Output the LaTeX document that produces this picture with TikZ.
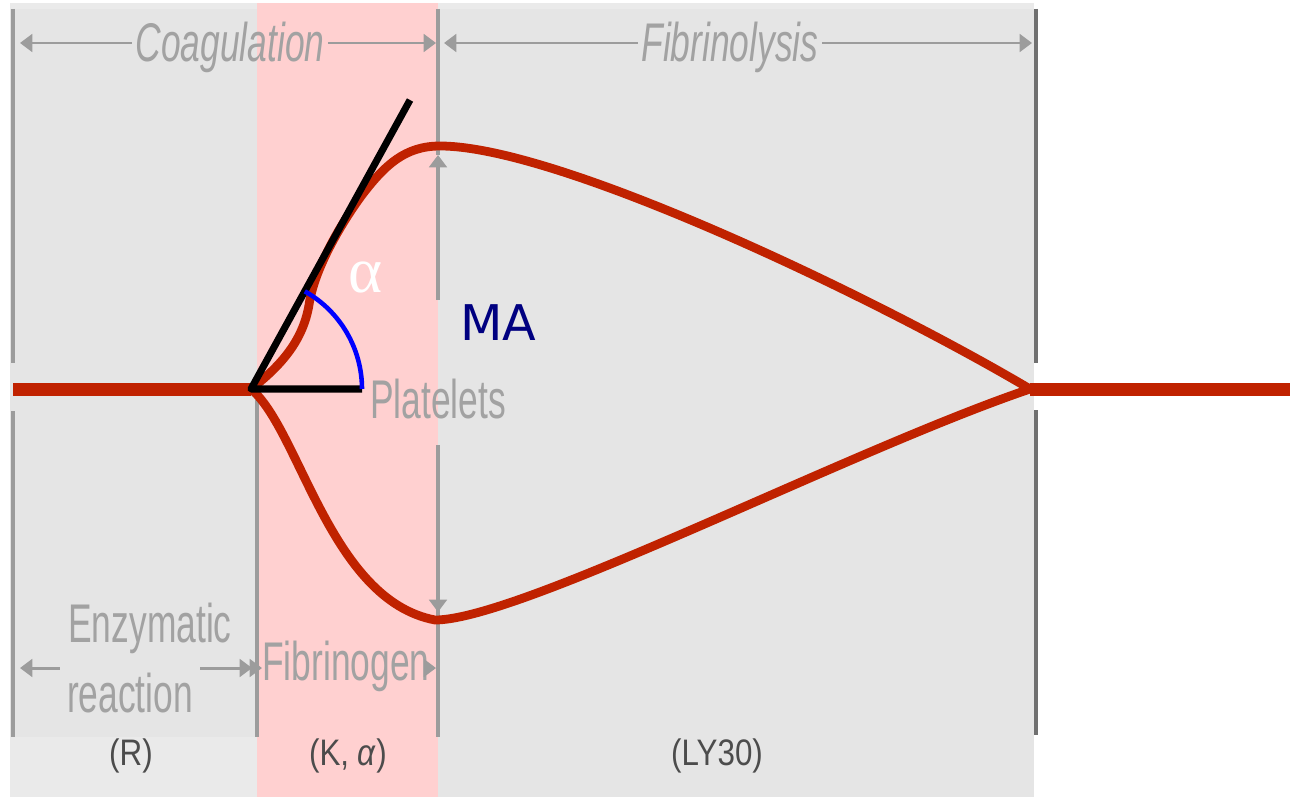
\documentclass[tikz,border=0pt]{standalone}
\usepackage{fontspec}
\usepackage{tikz}
\usetikzlibrary{arrows.meta}
\newfontfamily\labfont[FakeStretch=0.65]{Liberation Sans}
\newfontfamily\parfont[FakeStretch=0.85]{Liberation Sans}
\newfontfamily\mafont{DejaVu Sans}
\newfontfamily\greekfont{Liberation Serif}
\definecolor{panelGray}{HTML}{E5E5E5}
\definecolor{panelLight}{HTML}{EAEAEA}
\definecolor{bandPink}{HTML}{FFD0D0}
\definecolor{tegRed}{HTML}{C02200}
\definecolor{guideGray}{HTML}{9C9C9C}
\definecolor{edgeGray}{HTML}{707070}
\definecolor{labelGray}{HTML}{A2A2A2}
\definecolor{paramGray}{HTML}{4C4C4C}
\definecolor{maNavy}{HTML}{000080}

\begin{document}
\begin{tikzpicture}[x=0.02cm, y=-0.02cm, line join=round,
  vline/.style={guideGray, line width=1.9pt},
  garrow/.style={guideGray, line width=1.7pt},
  tip/.tip={Triangle[length=7pt, width=10pt]},
  redline/.style={tegRed, line width=5pt},
  faint/.style={font=\labfont\fontsize{31}{31}\selectfont, text=labelGray, inner xsep=2pt, inner ysep=0pt, anchor=base},
  param/.style={font=\parfont\fontsize{21}{21}\selectfont, text=paramGray, inner sep=0pt, anchor=base}]
  \useasboundingbox[fill=white] (0,0) rectangle (1290,797);
  \fill[panelGray] (10,3) rectangle (1034,797);
  \fill[panelLight] (10,3) rectangle (1034,9);
  \fill[panelLight] (10,737) rectangle (257,797);
  \fill[bandPink] (257,3) rectangle (438,797);

  \foreach \x/\ya/\yb in {13/9/363, 13/411/737, 257/400/737, 438/445/737}{%
    \draw[vline] (\x,\ya) -- (\x,\yb);
  }
  \draw[edgeGray, line width=2pt] (1036,9) -- (1036,363) (1036,410) -- (1036,735);

  \coordinate (O) at (251,389);
  \coordinate (peak) at (440,146);
  \coordinate (trough) at (435,620);
  \coordinate (cusp) at (1030,389);
  \coordinate (maTop) at (438,155);
  \coordinate (maBot) at (438,612);
  \coordinate (tanEnd) at (410,100);
  \coordinate (baseEnd) at (362,389);

  \draw[vline] (438,9) -- (maTop);
  \draw[vline, -tip] (438,300) -- (maTop);
  \draw[vline, -tip] (438,445) -- (maBot);

  \draw[tegRed, line width=7.4pt] (13,389) -- (O);
  \draw[tegRed, line width=7.4pt] (cusp) -- (1290,389);
  \draw[redline] (O) .. controls (282,365) and (303,340) .. (309,305)
    .. controls (314,270) and (340,225) .. (362,195)
    .. controls (385,165) and (405,146) .. (peak)
    .. controls (560,146) and (880,300) .. (cusp);
  \draw[redline] (O) .. controls (300,430) and (330,600) .. (trough)
    .. controls (520,620) and (850,450) .. (cusp);

  \draw[black, line width=4pt] (tanEnd) -- (O) -- (baseEnd);
  \draw[blue, line width=2.6pt] (baseEnd) arc[start angle=0, end angle=60.7, radius=2.24cm];
  \node[text=white, font=\greekfont\fontsize{37}{37}\selectfont, inner sep=0pt, anchor=base] (alpha) at (366,292) {α};
  \node[text=maNavy, font=\mafont\fontsize{28}{28}\selectfont, inner sep=0pt, anchor=base west] (ma) at (460,340) {MA};

  \node[faint, font=\labfont\itshape\fontsize{31}{31}\selectfont] (coag) at (230,62) {Coagulation};
  \node[faint, font=\labfont\itshape\fontsize{31}{31}\selectfont] (fibr) at (730,62) {Fibrinolysis};
  \node[faint] (enz) at (150,642) {Enzymatic};
  \node[faint, inner xsep=4pt] (reac) at (130,712) {reaction};
  \node[faint, fill=bandPink] (fgen) at (346,680) {Fibrinogen};
  \node[faint, inner xsep=0pt] (plat) at (438,418) {Platelets};

  \coordinate (coagL) at (20,43);
  \coordinate (coagR) at (436,43);
  \coordinate (fibrL) at (444,43);
  \coordinate (fibrR) at (1032,43);
  \coordinate (enzL) at (20,668);
  \coordinate (enzR) at (252,668);
  \coordinate (fgenL) at (262,668);
  \coordinate (fgenR) at (436,668);
  \draw[garrow, tip-] (coagL) -- (coagL -| coag.west);
  \draw[garrow, -tip] (coagR -| coag.east) -- (coagR);
  \draw[garrow, tip-] (fibrL) -- (fibrL -| fibr.west);
  \draw[garrow, -tip] (fibrR -| fibr.east) -- (fibrR);
  \draw[garrow, tip-] (enzL) -- (enzL -| reac.west);
  \draw[garrow, -tip] (enzR -| reac.east) -- (enzR);
  \draw[garrow, tip-] (fgenL) -- (fgenL -| fgen.west);
  \draw[garrow, -tip] (fgenR -| fgen.east) -- (fgenR);

  \foreach \x/\lbl/\nm in {131/(R)/pR, 348/{(K, \textit{α})}/pK, 717/(LY30)/pLY}{%
    \node[param] (\nm) at (\x,765) {\lbl};
  }
\end{tikzpicture}
\end{document}
